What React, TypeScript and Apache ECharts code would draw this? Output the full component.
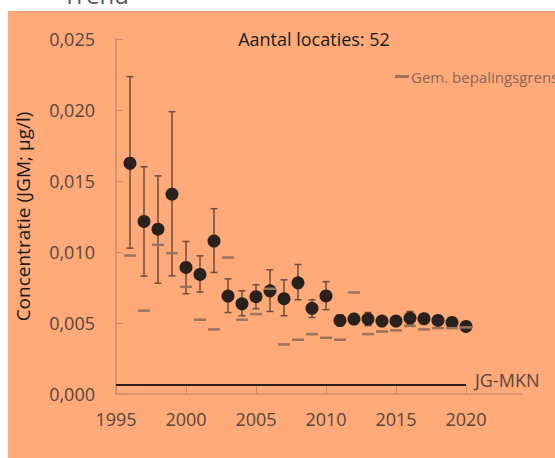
import React, { useEffect, useRef } from "react";
import * as echarts from "echarts";

const years = [1996, 1997, 1998, 1999, 2000, 2001, 2002, 2003, 2004, 2005, 2006, 2007, 2008, 2009, 2010, 2011, 2012, 2013, 2014, 2015, 2016, 2017, 2018, 2019, 2020];
const meanValues = [0.01625, 0.01215, 0.01161, 0.01407, 0.00891, 0.00842, 0.01077, 0.0069, 0.00635, 0.00685, 0.00727, 0.00671, 0.00783, 0.00603, 0.00691, 0.00518, 0.00528, 0.00528, 0.00514, 0.00514, 0.00535, 0.0053, 0.00518, 0.00504, 0.00476];
const upperValues = [0.02235, 0.016, 0.01536, 0.01988, 0.01074, 0.00973, 0.01305, 0.00811, 0.00727, 0.00769, 0.00875, 0.00804, 0.00912, 0.00664, 0.00791, 0.00558, 0.00565, 0.00574, 0.00545, 0.00545, 0.00581, 0.00565, 0.0055, 0.0053, 0.00495];
const lowerValues = [0.01027, 0.0083, 0.0078, 0.00832, 0.00706, 0.00718, 0.00856, 0.00574, 0.00551, 0.006, 0.00581, 0.00551, 0.00664, 0.00539, 0.00594, 0.00478, 0.00491, 0.00482, 0.00485, 0.00485, 0.0049, 0.00495, 0.0049, 0.00478, 0.0046];
const bepalingsgrens = [0.00975, 0.00587, 0.0105, 0.00992, 0.00755, 0.00523, 0.00455, 0.00961, 0.00523, 0.00563, 0.00741, 0.00349, 0.00382, 0.00422, 0.00396, 0.00382, 0.00715, 0.00422, 0.0044, 0.00448, 0.0048, 0.00455, 0.00464, 0.00464, 0.00469];
const jgMkn = 0.00063;
const jgMknYears = [1995, 2020];
const xTickValues = [1995, 2000, 2005, 2010, 2015, 2020];

const FONT = "'Open Sans', sans-serif";
const axisColor = "#c98e6c";
const labelColor = "#56463f";
const barColor = "#6b4d3d";
const dashColor = "#9a735e";

export default function App() {
  const ref = useRef<HTMLDivElement>(null);
  useEffect(() => {
    if (!ref.current) return;
    const chart = echarts.init(ref.current, null, { renderer: "svg" });
    const errData = years.map((y, i) => [y, lowerValues[i], upperValues[i]]);
    chart.setOption({
      animation: false,
      backgroundColor: "#ffffff",
      textStyle: { fontFamily: FONT },
      graphic: [
        { type: "rect", z: -100, silent: true, shape: { x: 8, y: 11, width: 547, height: 447 }, style: { fill: "#FFAA78" } },
        { type: "text", x: 63, y: -6, style: { text: "Trend", fontSize: 24, fontFamily: FONT, fill: "#595959", verticalAlign: "middle" } },
        { type: "text", x: 314, y: 39, style: { text: "Aantal locaties: 52", fontSize: 18, fontFamily: FONT, fill: "#1a1a1a", align: "center", verticalAlign: "middle" } },
      ],
      legend: {
        data: [{ name: "Gem. bepalingsgrens", icon: "rect" }],
        left: 390,
        top: 64,
        itemWidth: 14,
        itemHeight: 3,
        selectedMode: false,
        textStyle: { color: "#86685a", fontSize: 15, fontFamily: FONT, padding: [0, 0, 0, -3] },
      },
      grid: { left: 116, right: 33, top: 39, bottom: 64, containLabel: false },
      xAxis: {
        type: "value",
        min: 1995,
        max: 2024,
        interval: 5,
        axisLine: { show: true, lineStyle: { color: axisColor, width: 1.5 } },
        axisTick: { show: true, inside: true, length: 9, lineStyle: { color: axisColor, width: 1 }, customValues: xTickValues },
        axisLabel: { color: labelColor, fontSize: 18, fontFamily: FONT, margin: 16, customValues: xTickValues, formatter: (v: number) => String(v) },
        splitLine: { show: false },
      },
      yAxis: {
        type: "value",
        min: 0,
        max: 0.025,
        interval: 0.005,
        name: "Concentratie (JGM; µg/l)",
        nameLocation: "middle",
        nameGap: 84,
        nameRotate: 90,
        nameTextStyle: { color: "#1a1a1a", fontSize: 19, fontFamily: FONT },
        axisLine: { show: true, lineStyle: { color: axisColor, width: 1.5 } },
        axisTick: { show: true, inside: true, length: 7, lineStyle: { color: axisColor, width: 1 } },
        axisLabel: {
          color: labelColor,
          fontSize: 18,
          fontFamily: FONT,
          margin: 21,
          formatter: (v: number) => v.toFixed(3).replace(".", ","),
        },
        splitLine: { show: false },
      },
      series: [
        {
          type: "line",
          name: "JG-MKN",
          data: jgMknYears.map((y) => [y, jgMkn]),
          showSymbol: false,
          symbol: "none",
          lineStyle: { color: "#2a1f1a", width: 2 },
          endLabel: { show: true, formatter: "JG-MKN", color: labelColor, fontSize: 18, fontFamily: FONT, distance: 9, offset: [0, -5] },
          z: 2,
        },
        {
          type: "custom",
          name: "err",
          data: errData,
          encode: { x: 0, y: [1, 2] },
          renderItem: (params: any, api: any) => {
            const x = api.value(0);
            const lo = api.coord([x, api.value(1)]);
            const hi = api.coord([x, api.value(2)]);
            const cap = 3.5;
            const style = { stroke: barColor, lineWidth: 1.5 };
            return {
              type: "group",
              children: [
                { type: "line", shape: { x1: lo[0], y1: lo[1], x2: hi[0], y2: hi[1] }, style },
                { type: "line", shape: { x1: lo[0] - cap, y1: lo[1], x2: lo[0] + cap, y2: lo[1] }, style },
                { type: "line", shape: { x1: hi[0] - cap, y1: hi[1], x2: hi[0] + cap, y2: hi[1] }, style },
              ],
            };
          },
          z: 3,
        },
        {
          type: "scatter",
          name: "Gemiddelde",
          data: years.map((y, i) => [y, meanValues[i]]),
          symbol: "circle",
          symbolSize: 13,
          itemStyle: { color: "#2a211d", opacity: 1 },
          z: 4,
        },
        {
          type: "scatter",
          name: "Gem. bepalingsgrens",
          data: years.map((y, i) => [y, bepalingsgrens[i]]),
          symbol: "rect",
          symbolSize: [12, 2.5],
          itemStyle: { color: dashColor, opacity: 1 },
          z: 5,
        },
      ],
    });
    return () => chart.dispose();
  }, []);
  return <div ref={ref} style={{ position: "absolute", left: 0, top: 0, width: 555, height: 458 }} />;
}
